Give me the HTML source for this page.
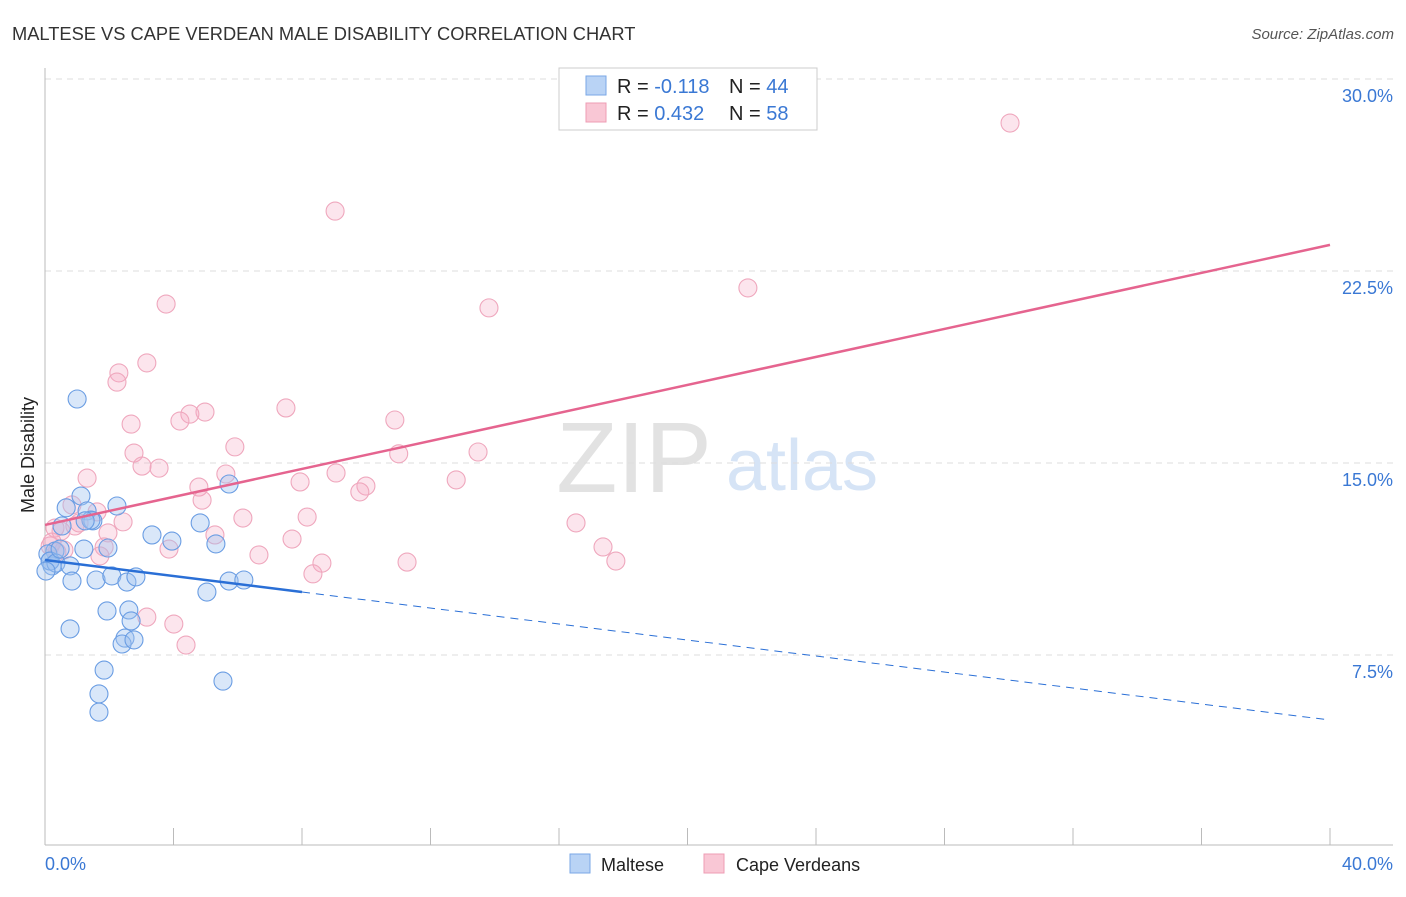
<!DOCTYPE html>
<html><head><meta charset="utf-8"><style>
body{margin:0;background:#fff;font-family:"Liberation Sans",sans-serif}
svg text{font-family:"Liberation Sans",sans-serif}
</style></head><body>
<svg width="1406" height="892" id="c">
<text x="12" y="40" font-size="18.3" fill="#333">MALTESE VS CAPE VERDEAN MALE DISABILITY CORRELATION CHART</text>
<text x="1394" y="39" font-size="15" fill="#555" font-style="italic" text-anchor="end">Source: ZipAtlas.com</text>
<text x="634" y="492" font-size="100" fill="#e2e2e2" font-family="Liberation Serif" text-anchor="middle">ZIP</text>
<text x="802" y="490" font-size="72" fill="#d6e4f6" text-anchor="middle">atlas</text>
<text x="34" y="455" font-size="18" fill="#222" text-anchor="middle" transform="rotate(-90 34 455)">Male Disability</text>
<g id="grid"></g><g id="marks"></g>
<rect x="559" y="68" width="258" height="62" fill="#fff" stroke="#ccc"/>
<rect x="586" y="76" width="20" height="19" fill="#b9d3f5" stroke="#7aa7e6"/>
<rect x="586" y="103" width="20" height="19" fill="#f9c7d5" stroke="#ee9cb4"/>
<text x="617" y="93" font-size="20" fill="#222">R = <tspan fill="#3a78d4">-0.118</tspan></text>
<text x="729" y="93" font-size="20" fill="#222">N = <tspan fill="#3a78d4">44</tspan></text>
<text x="617" y="120" font-size="20" fill="#222">R = <tspan fill="#3a78d4">0.432</tspan></text>
<text x="729" y="120" font-size="20" fill="#222">N = <tspan fill="#3a78d4">58</tspan></text>
<text x="45" y="870" font-size="18" fill="#3a78d4">0.0%</text>
<text x="1393" y="870" font-size="18" fill="#3a78d4" text-anchor="end">40.0%</text>
<rect x="570" y="854" width="20" height="19" fill="#b9d3f5" stroke="#7aa7e6"/>
<text x="601" y="871" font-size="18" fill="#222">Maltese</text>
<rect x="704" y="854" width="20" height="19" fill="#f9c7d5" stroke="#ee9cb4"/>
<text x="736" y="871" font-size="18" fill="#222">Cape Verdeans</text>
</svg>
<script>
const yTicks=[7.5,15,22.5,30];
const yTickLabels=["7.5%","15.0%","22.5%","30.0%"];
const xTicks=[0,4,8,12,16,20,24,28,32,36,40];
const blueX=[1.0,0.66,1.12,1.31,1.49,1.43,2.24,3.33,4.83,5.73,5.32,3.95,1.96,1.21,0.53,0.31,0.09,0.16,0.22,0.16,0.34,0.78,0.84,1.59,2.08,2.55,2.83,5.04,5.73,6.19,1.93,2.61,2.68,0.78,2.49,2.40,2.77,1.84,1.68,1.68,5.54,1.25,0.47,0.03];
const blueY=[17.5,13.25,13.71,13.13,12.74,12.77,13.32,12.19,12.66,14.18,11.84,11.95,11.68,11.64,12.54,11.56,11.45,11.17,10.98,11.17,11.09,10.98,10.39,10.43,10.59,10.35,10.55,9.96,10.39,10.43,9.22,9.26,8.83,8.52,8.16,7.93,8.09,6.91,5.98,5.27,6.48,12.74,11.64,10.78];
const pinkX=[30.04,9.03,21.88,13.82,3.77,3.17,2.30,2.24,7.50,10.89,4.98,4.51,4.20,2.68,5.91,2.77,3.02,3.55,5.63,11.01,13.48,12.80,9.06,7.94,9.99,9.80,4.79,4.89,1.31,0.84,1.62,2.43,1.96,6.16,8.16,16.53,5.29,7.69,3.86,1.84,6.66,1.71,17.37,17.77,11.27,8.62,8.34,3.17,4.01,4.39,0.31,0.50,0.16,0.37,0.93,1.06,0.59,0.22];
const pinkY=[28.28,24.84,21.84,21.06,21.21,18.91,18.52,18.16,17.15,16.68,16.99,16.91,16.64,16.52,15.63,15.39,14.88,14.80,14.57,15.36,15.43,14.34,14.61,14.26,14.10,13.87,14.06,13.55,14.41,13.36,13.09,12.70,12.27,12.85,12.89,12.66,12.19,12.03,11.64,11.72,11.41,11.37,11.72,11.17,11.13,11.09,10.67,8.98,8.71,7.89,12.46,12.34,11.76,11.52,12.54,12.66,11.60,11.91];
const pinkTrend=[12.58,23.52];
const blueTrend=[11.21,4.96];
const blueSolidEnd=8.0;
const NS="http://www.w3.org/2000/svg";
const X0=45,X1=1330,YB=847,PXPER=192/7.5;
function sx(v){return X0+v/40*(X1-X0);}
function sy(v){return YB-v*PXPER;}
function mk(t,a,p){const e=document.createElementNS(NS,t);for(const k in a)e.setAttribute(k,a[k]);p.appendChild(e);return e;}
const g=document.getElementById('grid'),m=document.getElementById('marks');
yTicks.forEach((t,i)=>{
 const l=mk('line',{x1:X0,x2:1393,y1:sy(t),y2:sy(t),stroke:'#ddd','stroke-dasharray':'6,5'},g);
 
 
 const tx=mk('text',{x:1393,y:sy(t)+23,'font-size':18,fill:'#3a78d4','text-anchor':'end'},g);
 tx.textContent=yTickLabels[i];
 
 
});
const ax=mk('line',{x1:X0,x2:1393,y1:845,y2:845,stroke:'#bbb'},g);


const ay=mk('line',{x1:X0,x2:X0,y1:68,y2:845,stroke:'#bbb'},g);


xTicks.forEach(t=>{
 const l=mk('line',{x1:sx(t),x2:sx(t),y1:828,y2:845,stroke:'#bbb'},g);
 
 
});
pinkX.forEach((x,i)=>{
 const c=mk('circle',{cx:sx(x),cy:sy(pinkY[i]),r:9,fill:'rgba(246,170,195,0.3)',stroke:'#efa7bd','stroke-width':1.1},m);
 
 
});
blueX.forEach((x,i)=>{
 const c=mk('circle',{cx:sx(x),cy:sy(blueY[i]),r:9,fill:'rgba(160,196,240,0.4)',stroke:'#6a9de3','stroke-width':1.1},m);
 
 
});
const pl=mk('line',{x1:sx(0),y1:sy(pinkTrend[0]),x2:sx(40),y2:sy(pinkTrend[1]),stroke:'#e5648f','stroke-width':2.5},m);


const bmid=blueTrend[0]+(blueTrend[1]-blueTrend[0])*blueSolidEnd/40;
const bl=mk('line',{x1:sx(0),y1:sy(blueTrend[0]),x2:sx(blueSolidEnd),y2:sy(bmid),stroke:'#2a6fd6','stroke-width':2.5},m);


const bd=mk('line',{x1:sx(blueSolidEnd),y1:sy(bmid),x2:sx(40),y2:sy(blueTrend[1]),stroke:'#2a6fd6','stroke-width':1,'stroke-dasharray':'8,6'},m);


</script>
</body></html>
